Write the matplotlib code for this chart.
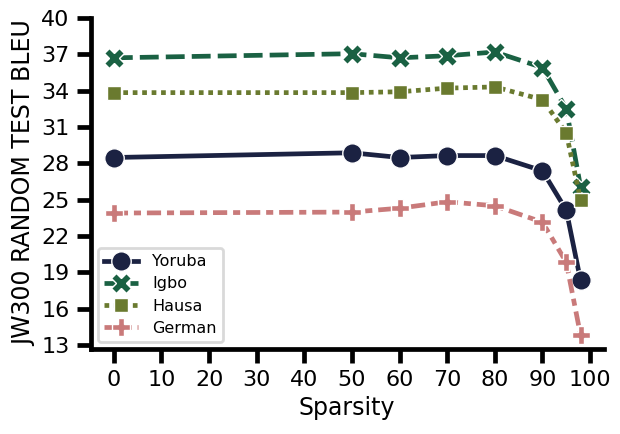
import matplotlib
matplotlib.use("Agg")
import matplotlib.pyplot as plt

sparsity = [0, 50, 60, 70, 80, 90, 95, 98]
yoruba = [28.48, 28.87, 28.48, 28.64, 28.64, 27.38, 24.14, 18.35]
igbo = [36.7, 37.04, 36.7, 36.87, 37.18, 35.9, 32.5, 26.07]
hausa = [33.83, 33.83, 33.9, 34.2, 34.3, 33.25, 30.5, 25.0]
german = [23.9, 23.98, 24.3, 24.83, 24.5, 23.15, 19.84, 13.83]

series = [
    ("Yoruba", yoruba, "#1b2242", "o", "-", 14),
    ("Igbo", igbo, "#1a6143", "X", (0, (4, 1.5)), 14),
    ("Hausa", hausa, "#6a7a2f", "s", (0, (1, 1)), 10.5),
    ("German", german, "#c97a7a", "P", (0, (3, 1.25, 1.5, 1.25)), 13),
]

xticks = list(range(0, 101, 10))
yticks = list(range(13, 41, 3))

fig = plt.figure(figsize=(6.2, 4.34), dpi=100)
ax = fig.add_axes([0.146, 0.195, 0.828, 0.764])

for name, vals, color, marker, ls, ms in series:
    ax.plot(sparsity, vals, color=color, marker=marker, linestyle=ls, lw=3.4,
            markersize=ms, markeredgecolor="white", markeredgewidth=1.0,
            label=name)

ax.set_xlim(-4.9, 102.9)
ax.set_ylim(12.66, 40)
ax.set_xticks(xticks)
ax.set_yticks(yticks)
ax.tick_params(axis="both", labelsize=16, width=3.4, length=10, pad=5)
for side in ["top", "right"]:
    ax.spines[side].set_visible(False)
for side in ["left", "bottom"]:
    ax.spines[side].set_linewidth(3.4)

ax.set_xlabel("Sparsity", fontsize=17)
ax.set_ylabel("JW300 RANDOM TEST BLEU", fontsize=17)

leg = ax.legend(loc="lower left", fontsize=11.5, frameon=True, handlelength=2.1,
                borderpad=0.4, labelspacing=0.45, handletextpad=0.9,
                borderaxespad=0.45)
leg.get_frame().set_edgecolor("#d0d0d0")
leg.get_frame().set_linewidth(2.0)

fig.savefig("out.png", dpi=100)
